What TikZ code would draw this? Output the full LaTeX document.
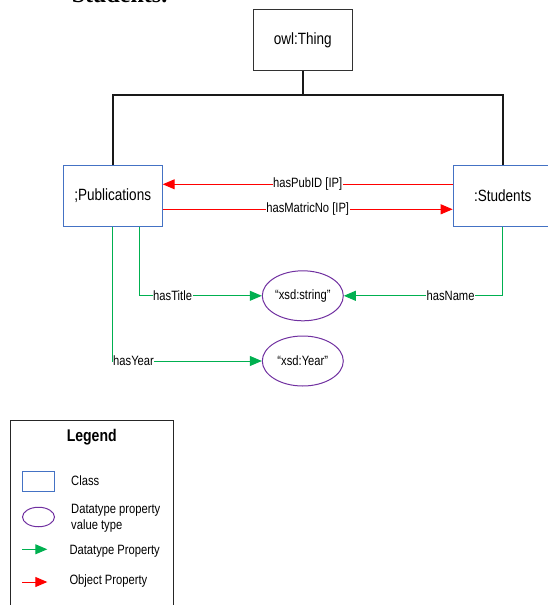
\documentclass[tikz,border=0pt]{standalone}
\usepackage{fontspec}
\setmainfont{Liberation Sans}[FakeStretch=0.83]
\newfontfamily\headserif{Liberation Serif}
\usetikzlibrary{arrows.meta,shapes.geometric}

\definecolor{classblue}{RGB}{68,114,196}
\definecolor{valpurple}{RGB}{112,48,160}
\definecolor{dtgreen}{RGB}{0,176,80}
\definecolor{objred}{RGB}{255,0,0}
\definecolor{rootgray}{RGB}{50,50,50}

\tikzset{
  rootbox/.style={draw=rootgray, line width=1pt, minimum width=99pt, minimum height=61pt,
    inner sep=0pt, font=\fontsize{16.3}{18}\selectfont},
  classbox/.style={draw=classblue, line width=1pt, minimum width=99pt, minimum height=61pt,
    inner sep=0pt, font=\fontsize{16.3}{18}\selectfont},
  valtype/.style={ellipse, draw=valpurple, line width=1pt, minimum width=81pt, minimum height=50pt,
    inner sep=0pt, font=\fontsize{13.5}{15}\selectfont},
  tree/.style={draw=black!90, line width=2pt},
  objprop/.style={draw=objred, line width=1pt, -{Triangle[length=12pt,width=10pt]}},
  dataprop/.style={draw=dtgreen, line width=1pt, -{Triangle[length=12pt,width=10pt]}},
  proplabel/.style={fill=white, inner sep=0.5pt, font=\fontsize{13.5}{15}\selectfont},
  legtext/.style={anchor=west, inner sep=0pt, align=left, font=\fontsize{13.5}{16.7}\selectfont},
}

\begin{document}
\begin{tikzpicture}[x=1pt,y=-1pt]
\useasboundingbox (0,0) rectangle (547,605);

% heading of the page above the figure
\node[anchor=base west, inner sep=0pt, font=\headserif\bfseries\fontsize{24}{24}\selectfont]
  (heading) at (71.7,2.0) {Students.};

% classes
\node[rootbox]  (thing) at (302.8,40.1) {owl:Thing};
\node[classbox] (pub)   at (112.7,195.5) {;Publications};
\node[classbox] (stu)   at (502.7,195.5) {:Students};

% value types
\node[valtype] (str) at (302.8,295.8) {“xsd:string”};
\node[valtype] (yr)  at (302.8,361.0) {“xsd:Year”};

% subclass tree
\coordinate (bus) at (302.8,94.5);
\draw[tree] (thing.south) -- (bus);
\draw[tree] (bus) -| (pub.north);
\draw[tree] (bus) -| (stu.north);

% object properties
\draw[objprop] ([yshift=11.2pt]stu.west) -- node[proplabel]{hasPubID [IP]} ([yshift=11.2pt]pub.east);
\draw[objprop] ([yshift=-13.8pt]pub.east) -- node[proplabel]{hasMatricNo [IP]} ([yshift=-13.8pt]stu.west);

% datatype properties
\draw[dataprop] ([xshift=26.6pt]pub.south) |- node[proplabel,pos=0.636]{hasTitle} (str.west);
\draw[dataprop] (stu.south) |- node[proplabel,pos=0.664]{hasName} (str.east);
\draw[dataprop] (pub.south) |- node[proplabel,pos=0.5,anchor=west,inner sep=0pt]{hasYear} (yr.west);

% legend
\node[draw=black!85, line width=1pt, minimum width=163.3pt, minimum height=200pt, inner sep=0pt]
  (legend) at (91.65,520) {};
\node[font=\bfseries\fontsize{16.9}{18}\selectfont, inner sep=0pt] (legtitle) at (91.7,437.3) {Legend};

\node[draw=classblue, line width=1pt, minimum width=32pt, minimum height=20pt, inner sep=0pt]
  (legclass) at (38.3,481) {};
\node[legtext] (legclasstext) at (71,480.7) {Class};

\node[ellipse, draw=valpurple, line width=1pt, minimum width=32pt, minimum height=19.5pt, inner sep=0pt]
  (legval) at (38.5,517) {};
\node[legtext] (legvaltext) at (71,518.3) {Datatype property\\value type};

\coordinate (dtA) at (22.3,549.3);
\coordinate (dtB) at (47.3,549.3);
\draw[dataprop] (dtA) -- (dtB);
\node[legtext] (legdttext) at (69.3,551.2) {Datatype Property};

\coordinate (opA) at (22.3,582);
\coordinate (opB) at (47.3,582);
\draw[objprop] (opA) -- (opB);
\node[legtext] (legoptext) at (69.3,581.3) {Object Property};
\end{tikzpicture}
\end{document}
